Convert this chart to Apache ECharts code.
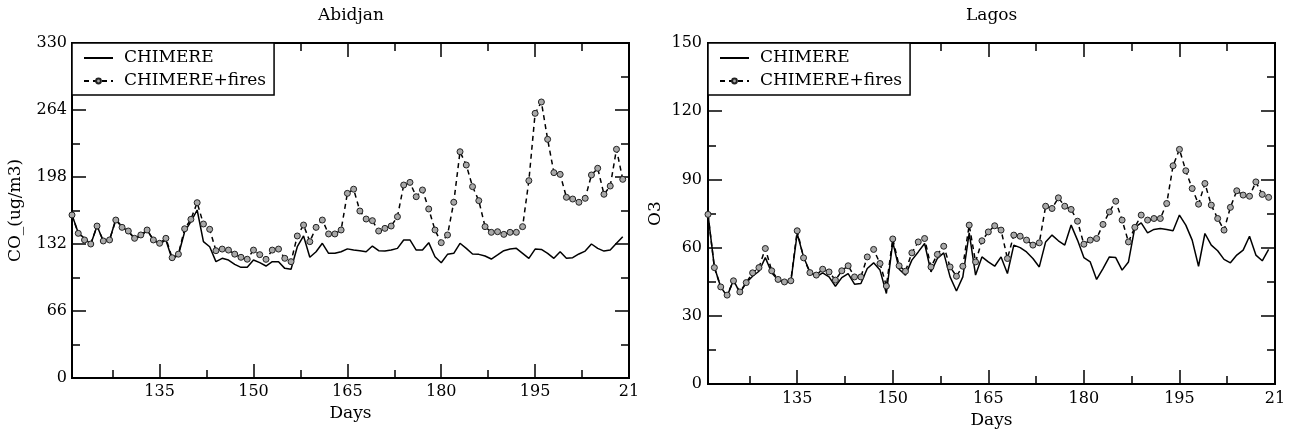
<!DOCTYPE html>
<html>
<head>
<meta charset="utf-8">
<script src="https://cdn.jsdelivr.net/npm/echarts@6/dist/echarts.min.js"></script>
<style>
html,body{margin:0;padding:0;background:#fff;}
#chart{width:1289px;height:436px;}
</style>
</head>
<body>
<div id="chart"></div>
<script>
// ---- data ----
const days = [121,122,123,124,125,126,127,128,129,130,131,132,133,134,135,136,137,138,139,140,
  141,142,143,144,145,146,147,148,149,150,151,152,153,154,155,156,157,158,159,160,
  161,162,163,164,165,166,167,168,169,170,171,172,173,174,175,176,177,178,179,180,
  181,182,183,184,185,186,187,188,189,190,191,192,193,194,195,196,197,198,199,200,
  201,202,203,204,205,206,207,208,209];

const abidjanChimere = [160.6,143,137.6,131.7,149.7,135,136,156.3,149,144.1,
  137.6,139.2,145.8,136,132,136,116.9,121.2,144.1,154,
  165.5,134.3,129.3,114.6,117.9,116.2,112,109,109,116.2,
  113.6,110.3,114.6,114.6,108,107.1,129.3,139.9,118.9,124.4,
  132.7,122.8,122.8,124.4,127.2,126,125.4,124.4,130,125.4,
  125,126,127.7,136,136,126,126,133.3,119.5,113.6,
  121.8,122.8,132.7,127.7,122.2,121.8,120.2,117.2,121.2,125.4,
  127,127.7,122.8,117.9,127,126.7,122.8,117.9,124.4,117.9,
  118.5,122.2,125,132,127.7,125,126,132.7,139.2];

const abidjanFires = [160.6,142.5,136,132,149.7,135,136,155.6,148.4,144.8,
  137.6,140.9,145.8,136,132.7,137.6,118.5,122,147,156.3,
  172.7,151.7,146.5,125.4,127,126,122,118.9,117,126,
  121.5,116.9,126,127,117.9,114.6,139.9,150.7,134.3,148.4,
  155.6,141.9,141.9,145.8,181.9,186,164.5,156.6,155,144.8,
  147.4,149.7,158.9,190.1,192.7,178.6,185.2,166.5,145.8,133.3,
  140.9,173.1,222.9,209.8,188.5,174.7,149.1,143.5,144.1,141.5,
  143.5,143.5,149.1,194.4,260.7,271.9,235.1,202.3,200.6,178,
  176.3,173.1,177,200,206.6,181,189.1,225.3,195.7];

const lagosChimere = [74.6,51.5,42.7,38.6,45.7,40.1,44.5,47.4,49.6,55.6,
  48.9,45.7,44.5,44.9,66.2,55.9,49.3,47.1,48.9,47.1,
  43,46.8,48.6,43.9,44.2,50.8,53.3,50.1,39.8,62.5,
  50.5,47.9,54.5,58.1,61.8,49.3,55.2,57.7,47.1,40.9,
  47.1,66.5,47.9,55.9,53.7,51.8,55.9,48.6,61.1,60,
  58.1,55.2,51.5,62.5,65.5,63,61.1,69.9,63.3,55.6,
  53.7,46,50.8,55.9,55.6,50.1,53.7,68.9,70.9,66.5,
  68,68.4,68,67.4,74.3,69.9,63.3,51.8,66.2,61.1,
  58.6,54.8,53.3,56.7,58.9,65,56.7,54.2,59.2];

const lagosFires = [74.6,51.2,42.7,39.1,45.4,40.5,44.6,48.9,51.2,59.6,
  49.8,46,44.9,45.4,67.4,55.5,49,47.9,50.5,49.3,
  45.7,49.8,52,47.1,47.1,55.9,59.2,53,43.1,63.8,
  52,49.6,57.7,62.5,64,51.5,57,60.6,51.5,47.4,
  51.8,69.9,53.7,63,66.9,69.6,67.7,55.2,65.5,65,
  63.3,61.1,62.1,78.2,77.2,81.9,78.2,76.8,71.6,61.5,
  63.3,64,70.2,75.7,80.4,72.1,62.5,68.9,74.3,72.1,
  72.8,72.8,79.4,96,103.2,93.8,86,79.1,88.2,78.7,
  72.8,67.7,77.7,85,83.1,82.6,88.9,83.4,82.1];

const xMajorTicks = [135,150,165,180,195,210];
const xTickLabels = ['135','150','165','180','195','21'];
const xMinorTicks = [127.5,142.5,157.5,172.5,187.5,202.5];
const seriesNames = ['CHIMERE','CHIMERE+fires'];
const titles = ['Abidjan','Lagos'];
const yNames = ['CO_(ug/m3)','O3'];
const xName = 'Days';

// ---- chart ----
const FONT = 'DejaVu Serif';
const chart = echarts.init(document.getElementById('chart'));

const grids = [
  {left:72, top:43, width:557, height:335},
  {left:708, top:43, width:567, height:341}
];
const yCfg = [
  {max:330, interval:66, nameGap:48, labelMargin:5},
  {max:150, interval:30, nameGap:44, labelMargin:6}
];
const xCfg = [
  {nameGap:27, labelMargin:6},
  {nameGap:28, labelMargin:7}
];

const lineBlack = {color:'#000', width:1.5};
const xAxes = [], yAxes = [];
grids.forEach((g, gi) => {
  const base = {type:'value', gridIndex:gi, min:121, max:210, splitLine:{show:false}, axisLine:{show:false}};
  xAxes.push(Object.assign({}, base, {
    position:'bottom', name:xName, nameLocation:'middle', nameGap:xCfg[gi].nameGap,
    nameTextStyle:{fontFamily:FONT, fontSize:17, color:'#000'},
    axisTick:{show:true, inside:true, length:14, lineStyle:lineBlack, customValues:xMajorTicks},
    axisLabel:{show:true, margin:xCfg[gi].labelMargin, fontFamily:FONT, fontSize:16, color:'#000',
      customValues:xMajorTicks,
      formatter:(v)=>{const i = xMajorTicks.indexOf(Math.round(v)); return i>=0 ? xTickLabels[i] : '';}}
  }));
  xAxes.push(Object.assign({}, base, {
    position:'bottom',
    axisTick:{show:true, inside:true, length:8, lineStyle:lineBlack, customValues:xMinorTicks},
    axisLabel:{show:false}
  }));
  xAxes.push(Object.assign({}, base, {
    position:'top',
    axisTick:{show:true, inside:true, length:14, lineStyle:lineBlack, customValues:xMajorTicks},
    axisLabel:{show:false}
  }));
  xAxes.push(Object.assign({}, base, {
    position:'top',
    axisTick:{show:true, inside:true, length:8, lineStyle:lineBlack, customValues:xMinorTicks},
    axisLabel:{show:false}
  }));
  const ybase = {type:'value', gridIndex:gi, min:0, max:yCfg[gi].max, interval:yCfg[gi].interval,
    splitLine:{show:false}, axisLine:{show:false},
    axisTick:{show:true, inside:true, length:14, lineStyle:lineBlack},
    minorTick:{show:true, splitNumber:2, length:8, lineStyle:lineBlack}};
  yAxes.push(Object.assign({}, ybase, {
    position:'left', name:yNames[gi], nameLocation:'middle', nameGap:yCfg[gi].nameGap, nameRotate:90,
    nameTextStyle:{fontFamily:FONT, fontSize:17, color:'#000'},
    axisLabel:{show:true, margin:yCfg[gi].labelMargin, fontFamily:FONT, fontSize:16, color:'#000'}
  }));
  yAxes.push(Object.assign({}, ybase, {position:'right', axisLabel:{show:false}}));
});

function pairs(vals){ return days.map((d,i)=>[d, vals[i]]); }

const series = [];
[[abidjanChimere, abidjanFires],[lagosChimere, lagosFires]].forEach((pair, gi) => {
  series.push({
    name:seriesNames[0], type:'line', xAxisIndex:gi*4, yAxisIndex:gi*2,
    data:pairs(pair[0]), showSymbol:false, symbol:'none',
    lineStyle:{color:'#000', width:1.5, type:'solid'}, itemStyle:{color:'#000'},
    animation:false, z:3
  });
  series.push({
    name:seriesNames[1], type:'line', xAxisIndex:gi*4, yAxisIndex:gi*2,
    data:pairs(pair[1]), symbol:'circle', symbolSize:6, showSymbol:true,
    lineStyle:{color:'#000', width:1.5, type:[5,4]},
    itemStyle:{color:'#a8a8a8', borderColor:'#222', borderWidth:1},
    animation:false, z:4
  });
});

const legendBase = {
  orient:'vertical', top:43, itemWidth:29, itemHeight:6, itemGap:3,
  padding:[5,8,4,11], borderColor:'#000', borderWidth:1.5, backgroundColor:'#fff', borderRadius:0,
  textStyle:{fontFamily:FONT, fontSize:17, color:'#000', lineHeight:20, padding:[0,0,0,6]},
  data:[
    {name:seriesNames[0], itemStyle:{opacity:0, borderWidth:0}},
    {name:seriesNames[1]}
  ],
  z:10
};

chart.setOption({
  backgroundColor:'#fff',
  animation:false,
  title:[
    {text:titles[0], left:318, top:7, textStyle:{fontFamily:FONT, fontSize:17, fontWeight:'normal', color:'#000'}, padding:0},
    {text:titles[1], left:966, top:7, textStyle:{fontFamily:FONT, fontSize:17, fontWeight:'normal', color:'#000'}, padding:0}
  ],
  legend:[
    Object.assign({}, legendBase, {left:72}),
    Object.assign({}, legendBase, {left:708})
  ],
  grid:grids.map(g => Object.assign({show:true, borderColor:'#000', borderWidth:2, backgroundColor:'transparent', containLabel:false}, g)),
  xAxis:xAxes,
  yAxis:yAxes,
  series:series
});
</script>
</body>
</html>
